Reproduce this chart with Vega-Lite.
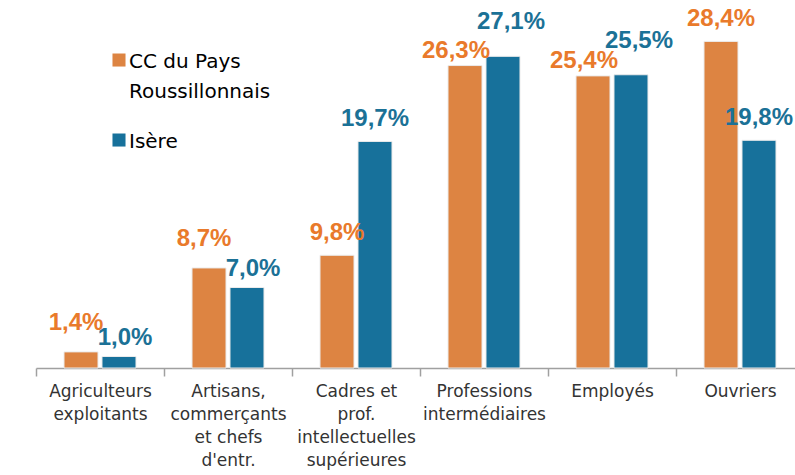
{
  "$schema": "https://vega.github.io/schema/vega-lite/v6.json",
  "width": 759,
  "height": 368,
  "autosize": "none",
  "padding": {"left": 36, "top": 0, "right": 0, "bottom": 107},
  "background": "white",
  "config": {
    "view": {"stroke": null},
    "style": {"guide-label": {"lineHeight": 30}}
  },
  "data": {
    "values": [
      {"cat": "Agriculteurs|exploitants", "series": "CC du Pays Roussillonnais", "value": 1.4},
      {"cat": "Agriculteurs|exploitants", "series": "Isère", "value": 1.0},
      {"cat": "Artisans,|commerçants|et chefs|d'entr.", "series": "CC du Pays Roussillonnais", "value": 8.7},
      {"cat": "Artisans,|commerçants|et chefs|d'entr.", "series": "Isère", "value": 7.0},
      {"cat": "Cadres et|prof.|intellectuelles|supérieures", "series": "CC du Pays Roussillonnais", "value": 9.8},
      {"cat": "Cadres et|prof.|intellectuelles|supérieures", "series": "Isère", "value": 19.7},
      {"cat": "Professions|intermédiaires", "series": "CC du Pays Roussillonnais", "value": 26.3},
      {"cat": "Professions|intermédiaires", "series": "Isère", "value": 27.1},
      {"cat": "Employés", "series": "CC du Pays Roussillonnais", "value": 25.4},
      {"cat": "Employés", "series": "Isère", "value": 25.5},
      {"cat": "Ouvriers", "series": "CC du Pays Roussillonnais", "value": 28.4},
      {"cat": "Ouvriers", "series": "Isère", "value": 19.8}
    ]
  },
  "transform": [
    {"joinaggregate": [{"op": "max", "field": "value", "as": "mx"}, {"op": "min", "field": "value", "as": "mn"}], "groupby": ["cat"]},
    {"calculate": "datum.mx - datum.mn < 2", "as": "close"},
    {"calculate": "datum.value == datum.mx", "as": "isTop"},
    {"calculate": "replace(format(datum.value, '.1f'), '.', ',') + '%'", "as": "label"}
  ],
  "encoding": {
    "x": {
      "field": "cat",
      "type": "nominal",
      "sort": null,
      "scale": {"paddingInner": 0, "paddingOuter": 0, "range": [0, 768]},
      "axis": {
        "title": null,
        "labelAngle": 0,
        "labelExpr": "split(datum.label, '|')",
        "labelFont": "DejaVu Sans",
        "labelFontSize": 17,
        "labelColor": "#333333",
        "labelLineHeight": 23,
        "labelPadding": 7,
        "labelOverlap": false,
        "labelLimit": 300,
        "tickBand": "extent",
        "tickSize": 8,
        "tickColor": "#a0a0a0",
        "tickWidth": 1.5,
        "domainColor": "#a0a0a0",
        "domainWidth": 1.5
      }
    },
    "xOffset": {
      "field": "series",
      "type": "nominal",
      "sort": ["CC du Pays Roussillonnais", "Isère"],
      "scale": {"paddingInner": 0.105, "paddingOuter": 0.737}
    },
    "y": {
      "field": "value",
      "type": "quantitative",
      "scale": {"domain": [0, 32]},
      "axis": null
    }
  },
  "layer": [
    {
      "mark": {"type": "bar", "stroke": "#ebebeb", "strokeWidth": 1},
      "encoding": {
        "color": {
          "field": "series",
          "type": "nominal",
          "sort": ["CC du Pays Roussillonnais", "Isère"],
          "scale": {"domain": ["CC du Pays Roussillonnais", "Isère"], "range": ["#DD8442", "#17719B"]},
          "legend": {
            "orient": "none",
            "legendX": 73,
            "legendY": 42,
            "title": null,
            "symbolType": "M-1,0.23H1V2.23H-1Z",
            "symbolSize": 170,
            "symbolStrokeWidth": 0,
            "labelFont": "DejaVu Sans",
            "labelFontSize": 20,
            "labelColor": "#000000",
            "labelLimit": 300,
            "labelOffset": 0,
            "labelBaseline": "top",
            "rowPadding": 20,
            "labelExpr": "datum.label == 'CC du Pays Roussillonnais' ? ['CC du Pays', 'Roussillonnais'] : datum.label"
          }
        }
      }
    },
    {
      "transform": [{"filter": "!datum.close"}],
      "mark": {"type": "text", "font": "Liberation Sans", "fontWeight": "bold", "fontSize": 24, "baseline": "alphabetic", "dy": -15},
      "encoding": {
        "text": {"field": "label"},
        "color": {"condition": {"test": "datum.series == 'Isère'", "value": "#1B7196"}, "value": "#E97A2B"}
      }
    },
    {
      "transform": [{"filter": "datum.close && datum.isTop && datum.series != 'Isère'"}],
      "mark": {"type": "text", "font": "Liberation Sans", "fontWeight": "bold", "fontSize": 24, "baseline": "alphabetic", "dx": -5, "dy": -22, "color": "#E97A2B"},
      "encoding": {"text": {"field": "label"}}
    },
    {
      "transform": [{"filter": "datum.close && !datum.isTop && datum.series != 'Isère'"}],
      "mark": {"type": "text", "font": "Liberation Sans", "fontWeight": "bold", "fontSize": 24, "baseline": "alphabetic", "dx": -9, "dy": -8, "color": "#E97A2B"},
      "encoding": {"text": {"field": "label"}}
    },
    {
      "transform": [{"filter": "datum.close && datum.isTop && datum.series == 'Isère'"}],
      "mark": {"type": "text", "font": "Liberation Sans", "fontWeight": "bold", "fontSize": 24, "baseline": "alphabetic", "dx": 8, "dy": -27, "color": "#1B7196"},
      "encoding": {"text": {"field": "label"}}
    },
    {
      "transform": [{"filter": "datum.close && !datum.isTop && datum.series == 'Isère'"}],
      "mark": {"type": "text", "font": "Liberation Sans", "fontWeight": "bold", "fontSize": 24, "baseline": "alphabetic", "dx": 6, "dy": -12, "color": "#1B7196"},
      "encoding": {"text": {"field": "label"}}
    }
  ]
}
